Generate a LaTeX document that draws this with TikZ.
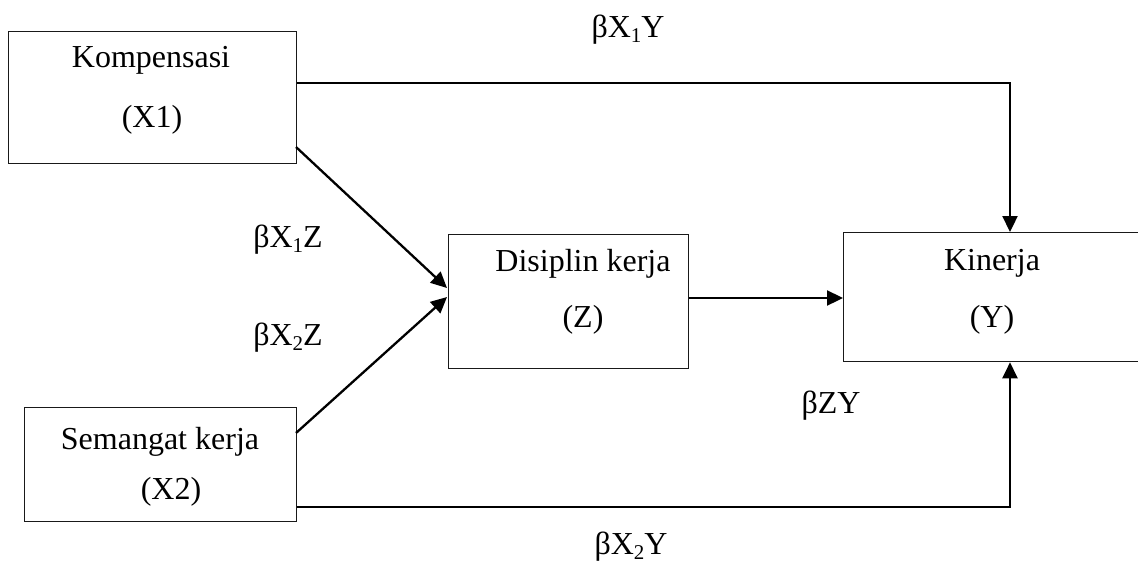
\documentclass[tikz,border=0pt]{standalone}
\usepackage{fontspec}
\setmainfont{Liberation Serif}
\usetikzlibrary{arrows.meta}
\newcommand{\lowsub}[1]{\raisebox{-0.3ex}{\fontsize{21}{24}\selectfont #1}}
\begin{document}
\begin{tikzpicture}[x=1pt,y=-1pt,
  box/.style={draw=black!90, line width=1.3pt, fill=white, inner sep=0pt, anchor=north west},
  txt/.style={font=\fontsize{32}{36}\selectfont, inner sep=0pt},
  lbl/.style={font=\fontsize{32}{36}\selectfont, inner sep=0pt},
  link/.style={line width=2.3pt, -{Triangle[length=16pt,width=15pt]}}]
\useasboundingbox (0,0) rectangle (1138,565);
% boxes
\node[box, minimum width=288pt, minimum height=132pt] (x1) at (8,31) {};
\node[box, minimum width=272pt, minimum height=114pt] (x2) at (24,407) {};
\node[box, minimum width=240pt, minimum height=134pt] (z) at (448,234) {};
\node[box, minimum width=295pt, minimum height=129pt] (y) at (843,232) {};
% box texts
\node[txt] (x1a) at (151,60) {Kompensasi};
\node[txt] (x1b) at (152,120) {(X1)};
\node[txt] (x2a) at (160,442) {Semangat kerja};
\node[txt] (x2b) at (171,492) {(X2)};
\node[txt] (za) at (583,264) {Disiplin kerja};
\node[txt] (zb) at (583,320) {(Z)};
\node[txt] (ya) at (992,263) {Kinerja};
\node[txt] (yb) at (992,320) {(Y)};
% path labels
\node[lbl] (l1) at (628,30) {βX\lowsub{1}Y};
\node[lbl] (l2) at (631,547) {βX\lowsub{2}Y};
\node[lbl] (l3) at (288,240) {βX\lowsub{1}Z};
\node[lbl] (l4) at (288,338) {βX\lowsub{2}Z};
\node[lbl] (l5) at (831,406) {βZY};
% connectors
\coordinate (tc) at (1010,83);
\coordinate (bc) at (1010,507);
\draw[link] (x1.east |- tc) -| (y.north -| tc);
\draw[link] (x2.east |- bc) -| (y.south -| bc);
\coordinate (s1) at (296,147);
\coordinate (s2) at (296,433);
\coordinate (za1) at (447,288);
\coordinate (za2) at (447,297);
\draw[link] (s1) -- (za1);
\draw[link] (s2) -- (za2);
\draw[link] (z.east |- 0,298) -- (y.west |- 0,298);
\end{tikzpicture}
\end{document}
